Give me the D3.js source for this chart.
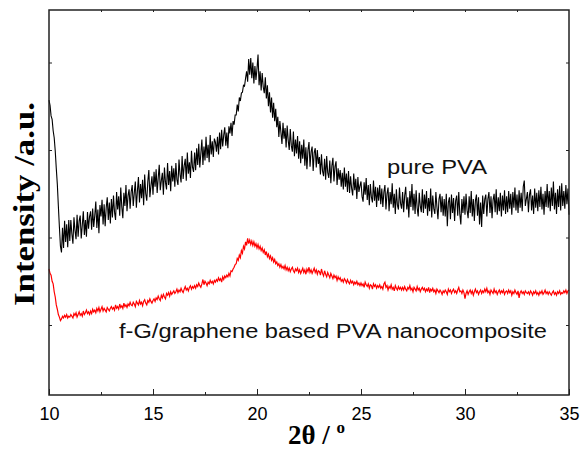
<!DOCTYPE html>
<html>
<head>
<meta charset="utf-8">
<script src="https://cdn.jsdelivr.net/npm/d3@7"></script>
<style>
  body { margin: 0; background: #fff; }
  svg { display: block; }
</style>
</head>
<body>
<svg id="chart" width="584" height="451"></svg>
<script>
// 2θ scan: 10° to 35°, one reading every 0.05°
const scanStart = 10;
const scanStep = 0.05;

// pure PVA, counts (20 readings per degree)
const pvaCounts = [
  3570,3510,3390,3350,3220,3140,2990,2790,2610,2360,2120,1900,1830,2110,1880,2190,1950,2150,1890,2200,
  1960,2200,2040,1930,2230,2080,1980,2260,2010,2190,2250,1990,2140,2300,2030,2200,2010,2290,2100,2240,
  2300,2090,2330,2120,2250,2410,2110,2320,2050,2370,2240,2430,2150,2380,2130,2340,2460,2200,2400,2160,
  2440,2230,2480,2290,2200,2520,2320,2470,2250,2570,2350,2220,2510,2360,2600,2300,2480,2550,2330,2520,
  2600,2360,2510,2640,2340,2530,2690,2400,2610,2450,2660,2370,2720,2500,2420,2640,2770,2460,2590,2700,
  2490,2750,2580,2780,2510,2680,2830,2540,2650,2740,2490,2800,2630,2550,2850,2600,2760,2530,2820,2640,
  2790,2580,2850,2660,2600,2890,2720,2630,2930,2670,2820,2900,2650,2970,2730,2860,2680,2990,2800,2750,
  2970,2770,3020,2830,3070,2800,2960,3120,2830,3040,2880,3150,2910,3060,2860,3170,2950,3100,2920,3130,
  3090,2980,3150,2950,3200,3010,3230,3040,3170,3260,3050,3200,3020,3270,3190,3310,3160,3330,3290,3400,
  3400,3520,3440,3600,3560,3650,3660,3740,3730,3820,3900,3780,4040,3860,4050,3820,4000,3760,3960,3800,
  3930,4090,3740,3900,3680,3880,3720,3650,3830,3590,3740,3500,3660,3430,3600,3370,3540,3330,3470,3260,
  3380,3150,3330,3200,3070,3310,3130,3250,3030,3280,3110,3000,3240,3050,2980,3210,2930,3120,2960,3160,
  2900,3100,2850,3060,2900,3120,2820,3030,2780,3000,3090,2810,2980,3040,2760,2970,3020,2800,3000,2840,
  2920,2720,2950,2760,2700,2900,2660,2930,2740,2680,2880,2620,2820,2910,2640,2810,2870,2600,2790,2660,
  2770,2580,2740,2550,2800,2580,2730,2520,2760,2510,2700,2560,2480,2730,2540,2670,2440,2690,2520,2590,
  2640,2470,2410,2630,2490,2680,2430,2600,2370,2610,2460,2400,2650,2420,2580,2350,2570,2420,2600,2380,
  2560,2350,2520,2600,2320,2500,2570,2300,2520,2380,2620,2340,2500,2270,2550,2370,2320,2570,2390,2330,
  2520,2290,2480,2580,2320,2460,2230,2530,2350,2610,2310,2500,2270,2540,2340,2240,2510,2360,2290,2550,
  2280,2490,2330,2530,2250,2450,2300,2560,2230,2480,2330,2270,2520,2350,2210,2440,2500,2290,2470,2250,
  2440,2240,2500,2130,2400,2460,2210,2490,2280,2450,2190,2420,2480,2250,2520,2270,2150,2440,2280,2470,
  2260,2500,2310,2220,2470,2280,2530,2240,2440,2190,2420,2490,2250,2460,2150,2400,2120,2480,2270,2440,
  2490,2240,2440,2520,2280,2470,2220,2430,2500,2290,2550,2260,2460,2300,2510,2240,2480,2310,2540,2270,
  2470,2290,2530,2330,2500,2260,2520,2340,2570,2310,2490,2280,2540,2340,2510,2300,2580,2650,2360,2440,
  2520,2290,2490,2550,2310,2480,2270,2560,2340,2510,2300,2540,2350,2580,2320,2500,2260,2530,2350,2610,
  2340,2530,2300,2570,2360,2640,2320,2510,2270,2550,2350,2590,2310,2620,2360,2530,2330,2600,2380,2560,
  2260
];

// f-G/graphene based PVA nanocomposite
const compositeCounts = [
  1640,1590,1570,1500,1470,1380,1320,1230,1180,1120,1090,1050,1070,1100,1080,1110,1090,1120,1080,1100,
  1090,1120,1100,1080,1130,1110,1140,1090,1120,1150,1110,1130,1100,1160,1120,1140,1170,1130,1150,1120,
  1160,1130,1180,1150,1170,1140,1190,1160,1200,1150,1180,1210,1160,1190,1170,1150,1200,1180,1160,1190,
  1210,1180,1200,1170,1230,1190,1210,1180,1240,1200,1220,1190,1250,1210,1230,1200,1240,1220,1260,1230,
  1220,1260,1240,1210,1270,1250,1230,1280,1240,1260,1220,1270,1290,1250,1230,1280,1260,1300,1270,1250,
  1280,1300,1270,1310,1290,1330,1300,1280,1340,1310,1350,1320,1300,1360,1340,1370,1330,1380,1350,1370,
  1390,1360,1380,1410,1370,1400,1380,1420,1390,1370,1410,1440,1400,1420,1390,1430,1450,1410,1440,1420,
  1450,1420,1460,1440,1480,1450,1430,1470,1520,1460,1500,1480,1450,1490,1470,1510,1480,1500,1470,1510,
  1490,1520,1500,1540,1510,1530,1490,1550,1520,1560,1540,1570,1550,1590,1560,1620,1610,1640,1660,1690,
  1700,1760,1740,1800,1770,1850,1820,1900,1870,1950,1910,1990,1930,1970,1920,1960,1910,1950,1900,1930,
  1880,1920,1870,1900,1850,1880,1830,1860,1800,1840,1780,1810,1760,1790,1740,1770,1720,1750,1700,1720,
  1680,1700,1660,1690,1650,1670,1640,1680,1630,1660,1620,1650,1610,1640,1660,1620,1600,1640,1620,1650,
  1600,1630,1590,1620,1650,1600,1630,1580,1640,1610,1660,1600,1630,1590,1620,1650,1600,1630,1580,1620,
  1610,1570,1640,1590,1560,1620,1580,1550,1600,1570,1540,1590,1560,1530,1570,1540,1560,1510,1550,1520,
  1540,1500,1520,1490,1530,1510,1480,1520,1490,1470,1510,1480,1500,1460,1490,1470,1500,1460,1480,1450,
  1480,1450,1470,1430,1490,1460,1440,1470,1420,1460,1450,1410,1470,1440,1460,1420,1450,1430,1460,1420,
  1440,1410,1470,1490,1430,1450,1400,1440,1420,1460,1410,1430,1390,1450,1420,1400,1440,1410,1430,1400,
  1430,1400,1440,1410,1390,1430,1410,1450,1400,1420,1380,1430,1410,1390,1440,1400,1420,1380,1410,1430,
  1400,1420,1380,1410,1390,1430,1370,1410,1390,1420,1380,1400,1360,1410,1390,1370,1400,1380,1350,1390,
  1370,1400,1380,1350,1410,1380,1400,1360,1390,1410,1370,1390,1360,1400,1430,1380,1390,1360,1400,1370,
  1300,1360,1390,1350,1380,1400,1360,1390,1340,1380,1410,1370,1390,1350,1380,1400,1360,1390,1370,1410,
  1380,1420,1370,1390,1350,1400,1380,1360,1410,1370,1390,1350,1380,1400,1360,1390,1370,1400,1350,1380,
  1390,1360,1400,1370,1390,1340,1380,1360,1400,1370,1350,1390,1310,1370,1390,1360,1380,1350,1390,1370,
  1360,1380,1350,1390,1370,1340,1380,1360,1390,1350,1370,1340,1380,1360,1390,1350,1370,1400,1360,1380,
  1350,1380,1360,1340,1370,1390,1350,1370,1340,1380,1360,1390,1350,1370,1360,1390,1370,1400,1360,1390,
  1400
];

const majorTicks = [10, 15, 20, 25, 30, 35];
const minorTicks = [12.5, 17.5, 22.5, 27.5, 32.5];
const topTicks = [12.5, 15, 17.5, 20, 22.5, 25, 27.5, 30, 32.5];
const intensityTicks = [1000, 2000, 3000, 4000];

const labelPVA = "pure PVA";
const labelComposite = "f-G/graphene based PVA nanocomposite";

const svg = d3.select("#chart");
const margin = {left: 49, right: 15, top: 10, bottom: 56};
const W = 584, H = 451;

const x = d3.scaleLinear().domain([10, 35]).range([margin.left, W - margin.right]);
const y = d3.scaleLinear().domain([200, 4600]).range([H - margin.bottom, margin.top]);

const toPoints = arr => arr.map((v, i) => [scanStart + i * scanStep, v]);

const line = d3.line()
  .x(d => x(d[0]))
  .y(d => y(d[1]));

// traces
svg.append("path")
  .datum(toPoints(pvaCounts))
  .attr("fill", "none")
  .attr("stroke", "#000")
  .attr("stroke-width", 1.1)
  .attr("d", line);

svg.append("path")
  .datum(toPoints(compositeCounts))
  .attr("fill", "none")
  .attr("stroke", "#ff0000")
  .attr("stroke-width", 1.2)
  .attr("d", line);

// axes, ticks all pointing in
const axisColor = "#222";
function styleAxis(g) {
  g.select(".domain").remove();
  g.selectAll(".tick line").attr("stroke", axisColor).attr("stroke-width", 1);
}

const bottomY = H - margin.bottom;
svg.append("g")
  .attr("transform", `translate(0,${bottomY})`)
  .call(d3.axisBottom(x).tickValues(majorTicks).tickSize(-6).tickPadding(12).tickFormat(d3.format("d")))
  .call(styleAxis)
  .call(g => g.selectAll("text")
    .attr("font-family", "Liberation Sans, Arial, sans-serif")
    .attr("font-size", 18)
    .attr("fill", "#000"));

svg.append("g")
  .attr("transform", `translate(0,${bottomY})`)
  .call(d3.axisBottom(x).tickValues(minorTicks).tickSize(-3).tickFormat(""))
  .call(styleAxis);

svg.append("g")
  .attr("transform", `translate(0,${margin.top})`)
  .call(d3.axisTop(x).tickValues(topTicks).tickSize(-2).tickFormat(""))
  .call(styleAxis);

svg.append("g")
  .attr("transform", `translate(${margin.left},0)`)
  .call(d3.axisLeft(y).tickValues(intensityTicks).tickSize(-3).tickFormat(""))
  .call(styleAxis);

svg.append("g")
  .attr("transform", `translate(${W - margin.right},0)`)
  .call(d3.axisRight(y).tickValues(intensityTicks).tickSize(-3).tickFormat(""))
  .call(styleAxis);

// frame
svg.append("rect")
  .attr("x", margin.left)
  .attr("y", margin.top)
  .attr("width", W - margin.right - margin.left)
  .attr("height", bottomY - margin.top)
  .attr("fill", "none")
  .attr("stroke", axisColor)
  .attr("stroke-width", 1.5);

// axis titles
const xTitle = svg.append("text")
  .attr("x", 288)
  .attr("y", 444)
  .attr("font-family", "Liberation Serif, Times New Roman, serif")
  .attr("font-weight", "bold")
  .attr("font-size", 27)
  .attr("fill", "#000");
xTitle.append("tspan").text("2θ / ");
xTitle.append("tspan").attr("font-size", 17).attr("dy", -11).text("o");

svg.append("text")
  .attr("transform", "translate(34,204) rotate(-90)")
  .attr("text-anchor", "middle")
  .attr("font-family", "Liberation Serif, Times New Roman, serif")
  .attr("font-weight", "bold")
  .attr("font-size", 29)
  .attr("textLength", 204)
  .attr("lengthAdjust", "spacingAndGlyphs")
  .attr("fill", "#000")
  .text("Intensity /a.u.");

// series labels
svg.append("text")
  .attr("x", 387)
  .attr("y", 174)
  .attr("font-family", "Liberation Sans, Arial, sans-serif")
  .attr("font-size", 20)
  .attr("textLength", 100)
  .attr("lengthAdjust", "spacingAndGlyphs")
  .attr("fill", "#111")
  .text(labelPVA);

svg.append("text")
  .attr("x", 119)
  .attr("y", 338)
  .attr("font-family", "Liberation Sans, Arial, sans-serif")
  .attr("font-size", 20)
  .attr("textLength", 428)
  .attr("lengthAdjust", "spacingAndGlyphs")
  .attr("fill", "#111")
  .text(labelComposite);
</script>
</body>
</html>
